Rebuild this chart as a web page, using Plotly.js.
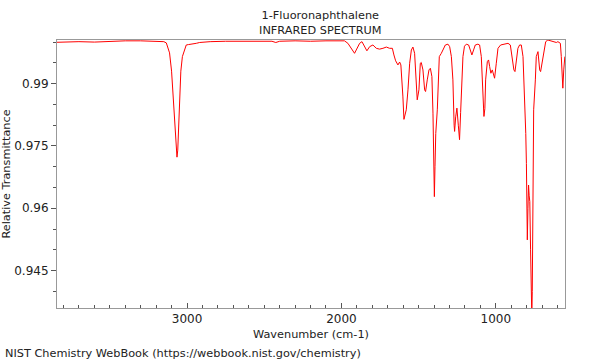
<!DOCTYPE html>
<html>
<head>
<meta charset="utf-8">
<script src="https://cdn.plot.ly/plotly-3.0.1.min.js"></script>
<style>
  html, body { margin: 0; padding: 0; background: #fff; }
  #chart { width: 600px; height: 360px; }
</style>
</head>
<body>
<div id="chart"></div>
<script>
// Wavenumber (cm-1)
const wavenumber = [
  3842, 3800, 3700, 3600, 3500, 3400, 3300, 3200, 3150, 3134,
  3120, 3113, 3100, 3091, 3080, 3070, 3065, 3060, 3055, 3048,
  3040, 3030, 3018, 3005, 2990, 2964, 2940, 2918, 2850, 2750,
  2650, 2550, 2450, 2425, 2400, 2300, 2200, 2100, 2000, 1980,
  1958, 1936, 1915, 1904, 1882, 1867, 1850, 1835, 1817, 1796,
  1774, 1753, 1731, 1709, 1688, 1670, 1660, 1649, 1634, 1623,
  1615, 1608, 1602, 1595, 1588, 1580, 1569, 1558, 1547, 1537,
  1526, 1515, 1509, 1498, 1489, 1483, 1472, 1461, 1455, 1444,
  1433, 1424, 1414, 1407, 1401, 1398, 1394, 1389, 1379, 1370,
  1366, 1353, 1343, 1327, 1310, 1299, 1288, 1278, 1270, 1267,
  1260, 1252, 1243, 1235, 1228, 1224, 1213, 1203, 1191, 1176,
  1165, 1155, 1144, 1133, 1116, 1105, 1094, 1088, 1084, 1077,
  1071, 1066, 1055, 1047, 1040, 1032, 1023, 1012, 1008, 997,
  986, 969, 943, 921, 906, 893, 883, 876, 867, 857,
  846, 835, 824, 813, 806, 802, 799, 796, 792, 788,
  784, 780, 775, 770, 767, 764, 761, 759, 755, 744,
  738, 727, 716, 710, 701, 690, 677, 663, 641, 619,
  608, 598, 582, 576, 570, 566, 560, 553
];
// Relative transmittance
const transmittance = [
  0.99995, 1.0000, 1.0001, 1.0000, 1.0002, 1.0003, 1.0003, 1.0002, 1.0001, 0.9998,
  0.9985, 0.9974, 0.9930, 0.9869, 0.9800, 0.9745, 0.9723, 0.9740, 0.9800, 0.9869,
  0.9930, 0.9965, 0.9978, 0.9993, 0.9994, 0.9995, 0.9997, 0.9999, 1.0001, 1.0002,
  1.0002, 1.0003, 1.0002, 0.9999, 1.0002, 1.0003, 1.0002, 1.0003, 1.0003, 1.0003,
  0.9997, 0.9985, 0.9973, 0.9981, 0.9997, 1.0001, 0.9989, 0.9979, 0.9989, 0.9993,
  0.9985, 0.9983, 0.9985, 0.9988, 0.9985, 0.9985, 0.9969, 0.9955, 0.9945, 0.9952,
  0.9945, 0.9910, 0.9870, 0.9814, 0.9825, 0.9837, 0.9885, 0.9949, 0.9981, 0.9988,
  0.9973, 0.9909, 0.9861, 0.9885, 0.9949, 0.9951, 0.9933, 0.9885, 0.9881, 0.9909,
  0.9933, 0.9937, 0.9917, 0.9829, 0.9708, 0.9628, 0.9700, 0.9780, 0.9837, 0.9949,
  0.9965, 0.9973, 0.9981, 0.9993, 0.9995, 0.9989, 0.9965, 0.9909, 0.9800, 0.9785,
  0.9820, 0.9841, 0.9800, 0.9765, 0.9830, 0.9869, 0.9965, 0.9990, 0.9995, 0.9993,
  0.9981, 0.9969, 0.9981, 0.9993, 0.9995, 0.9993, 0.9965, 0.9909, 0.9845, 0.9821,
  0.9840, 0.9909, 0.9953, 0.9957, 0.9941, 0.9925, 0.9933, 0.9921, 0.9913, 0.9949,
  0.9985, 0.9993, 0.9995, 0.9997, 0.9993, 0.9965, 0.9933, 0.9929, 0.9957, 0.9985,
  0.9993, 0.9993, 0.9965, 0.9869, 0.9780, 0.9708, 0.9600, 0.9524, 0.9600, 0.9656,
  0.9630, 0.9616, 0.9500, 0.9380, 0.9340, 0.9400, 0.9600, 0.9740, 0.9837, 0.9909,
  0.9965, 0.9977, 0.9933, 0.9929, 0.9949, 0.9981, 1.0001, 1.0005, 1.0003, 1.0001,
  0.9999, 1.0001, 0.9997, 0.9965, 0.9917, 0.9889, 0.9933, 0.9965
];

const chartTitle = "1-Fluoronaphthalene<br>INFRARED SPECTRUM";
const xTitle = "Wavenumber (cm-1)";
const yTitle = "Relative Transmittance";
const footer = "NIST Chemistry WebBook (https://webbook.nist.gov/chemistry)";
const xRange = [3842, 552];
const yRange = [0.936, 1.0005];

const fam = "DejaVu Sans, sans-serif";
const txt = "#222";
const smallFont = { family: fam, size: 11.3, color: txt };

const trace = {
  x: wavenumber,
  y: transmittance,
  type: "scatter",
  mode: "lines",
  line: { color: "#ff0000", width: 1 },
  hoverinfo: "skip"
};

const layout = {
  width: 600,
  height: 360,
  paper_bgcolor: "#ffffff",
  plot_bgcolor: "#ffffff",
  font: { family: fam, size: 12, color: txt },
  showlegend: false,
  margin: { l: 57, r: 35, t: 40, b: 52 },
  title: {
    text: chartTitle,
    font: smallFont,
    x: 311 / 600,
    xanchor: "center",
    xref: "paper",
    y: 1 - 19 / 360,
    yanchor: "top",
    yref: "container"
  },
  xaxis: {
    range: xRange,
    showgrid: false,
    zeroline: false,
    showline: true,
    mirror: true,
    linecolor: "#999",
    linewidth: 1,
    ticks: "inside",
    ticklen: 5,
    tickcolor: "#555",
    tick0: 0,
    dtick: 1000,
    tickfont: { family: fam, size: 12, color: txt },
    minor: { dtick: 100, ticks: "inside", ticklen: 3, tickcolor: "#555", showgrid: false },
    title: { text: xTitle, font: smallFont, standoff: 4 }
  },
  yaxis: {
    range: yRange,
    showgrid: false,
    zeroline: false,
    showline: true,
    mirror: true,
    linecolor: "#999",
    linewidth: 1,
    ticks: "outside",
    ticklen: 5,
    tickcolor: "#555",
    tick0: 0.945,
    dtick: 0.015,
    tickfont: { family: fam, size: 12, color: txt },
    minor: { dtick: 0.005, tick0: 0.945, ticks: "outside", ticklen: 3, tickcolor: "#555", showgrid: false },
    title: { text: yTitle, font: smallFont, standoff: 6 }
  },
  annotations: [
    {
      text: footer,
      xref: "paper", yref: "paper",
      x: -54 / 508, y: -45 / 268,
      xanchor: "left", yanchor: "middle",
      showarrow: false,
      font: smallFont
    }
  ]
};

Plotly.newPlot("chart", [trace], layout, { staticPlot: true, displayModeBar: false });
</script>
</body>
</html>
